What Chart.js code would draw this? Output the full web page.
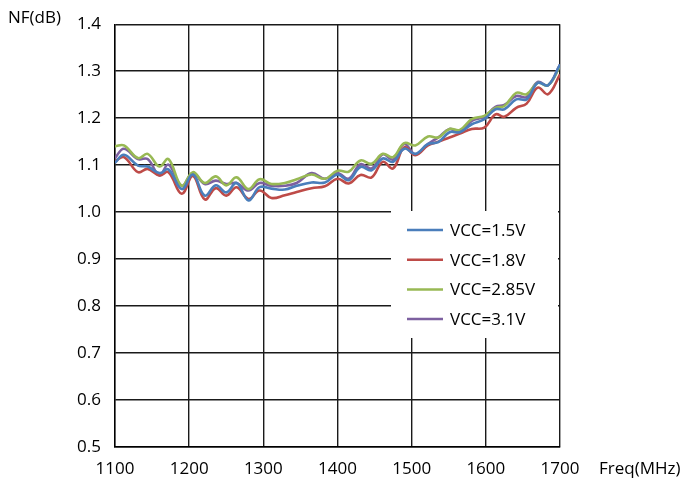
<!DOCTYPE html>
<html>
<head>
<meta charset="utf-8">
<script src="https://cdn.jsdelivr.net/npm/chart.js@4.4.1/dist/chart.umd.min.js"></script>
<style>
  html, body { margin: 0; padding: 0; background: #fff; }
  #wrap { width: 689px; height: 486px; position: relative; }
</style>
</head>
<body>
<div id="wrap"><canvas id="nf-chart"></canvas></div>
<script>
// frequency points (MHz) at the wiggle peaks/troughs
const freqs = [1100, 1112, 1131, 1144, 1160, 1172, 1190, 1205, 1221, 1236, 1250, 1264, 1280, 1295, 1311, 1329, 1345, 1365, 1383, 1400,
  1415, 1431, 1446, 1461, 1475, 1490, 1505, 1522, 1536, 1551, 1565, 1581, 1598, 1613, 1625, 1641, 1655, 1670, 1684, 1700];

// NF (dB) per supply voltage
const nf15 = [1.105, 1.122, 1.099, 1.097, 1.083, 1.091, 1.049, 1.080, 1.035, 1.057, 1.042, 1.062, 1.025, 1.053, 1.050, 1.048, 1.056, 1.063, 1.063, 1.080,
  1.068, 1.096, 1.089, 1.114, 1.107, 1.135, 1.124, 1.145, 1.149, 1.170, 1.170, 1.187, 1.198, 1.219, 1.219, 1.240, 1.240, 1.275, 1.270, 1.314];
const nf18 = [1.108, 1.117, 1.085, 1.092, 1.078, 1.085, 1.039, 1.077, 1.027, 1.051, 1.035, 1.053, 1.028, 1.046, 1.030, 1.036, 1.043, 1.051, 1.055, 1.071,
  1.061, 1.079, 1.074, 1.107, 1.093, 1.138, 1.121, 1.142, 1.150, 1.159, 1.167, 1.177, 1.180, 1.208, 1.203, 1.222, 1.231, 1.265, 1.251, 1.293];
const nf285 = [1.140, 1.142, 1.115, 1.124, 1.097, 1.113, 1.056, 1.085, 1.062, 1.076, 1.057, 1.074, 1.049, 1.070, 1.060, 1.062, 1.070, 1.080, 1.071, 1.088,
  1.086, 1.110, 1.103, 1.124, 1.117, 1.147, 1.142, 1.161, 1.159, 1.177, 1.175, 1.198, 1.205, 1.222, 1.226, 1.254, 1.251, 1.275, 1.270, 1.310];
const nf31 = [1.115, 1.135, 1.113, 1.113, 1.078, 1.101, 1.056, 1.083, 1.060, 1.067, 1.060, 1.062, 1.046, 1.062, 1.056, 1.056, 1.062, 1.083, 1.071, 1.083,
  1.071, 1.102, 1.093, 1.123, 1.112, 1.145, 1.123, 1.145, 1.159, 1.177, 1.170, 1.194, 1.203, 1.224, 1.228, 1.247, 1.245, 1.277, 1.270, 1.314];

const seriesNames = ['VCC=1.5V', 'VCC=1.8V', 'VCC=2.85V', 'VCC=3.1V'];
const seriesValues = [nf15, nf18, nf285, nf31];
const seriesColors = ['#4A7EBB', '#BE4B48', '#98B954', '#7D60A0'];

const FONT = '"Open Sans", "Liberation Sans", sans-serif';
const FONT_SIZE = 17;

// legend box drawn inside the plot, over the grid
const legendBox = {
  id: 'legendBox',
  beforeDatasetsDraw(chart) {
    const ctx = chart.ctx;
    ctx.save();
    ctx.fillStyle = '#fff';
    ctx.fillRect(391, 211, 167, 127);
    ctx.font = FONT_SIZE + 'px ' + FONT;
    ctx.textBaseline = 'middle';
    ctx.fillStyle = '#000';
    chart.data.datasets.forEach((ds, i) => {
      const y = 230 + i * 29.7;
      ctx.strokeStyle = ds.borderColor;
      ctx.lineWidth = 2.5;
      ctx.beginPath();
      ctx.moveTo(407, y);
      ctx.lineTo(443, y);
      ctx.stroke();
      ctx.fillText(ds.label, 450, y + 1);
    });
    ctx.restore();
  },
  afterDraw(chart) {
    // axis captions sitting beside the tick labels
    const ctx = chart.ctx;
    ctx.save();
    ctx.font = FONT_SIZE + 'px ' + FONT;
    ctx.fillStyle = '#000';
    ctx.textBaseline = 'middle';
    ctx.fillText('NF(dB)', 8, 18);
    ctx.fillText('Freq(MHz)', 599, 469);
    ctx.restore();
  }
};

const datasets = seriesNames.map((name, i) => ({
  label: name,
  data: freqs.map((f, j) => ({ x: f, y: seriesValues[i][j] })),
  borderColor: seriesColors[i],
  backgroundColor: seriesColors[i],
  borderWidth: 2.6,
  pointRadius: 0,
  tension: 0.4,
  fill: false
}));

new Chart(document.getElementById('nf-chart'), {
  type: 'line',
  data: { datasets: datasets },
  options: {
    responsive: true,
    maintainAspectRatio: false,
    animation: false,
    layout: { padding: { top: 15, right: 129, left: 0, bottom: 0 } },
    plugins: {
      legend: { display: false },
      tooltip: { enabled: false }
    },
    scales: {
      x: {
        type: 'linear',
        min: 1100,
        max: 1700,
        afterFit: (s) => { s.height = 39; },
        ticks: {
          stepSize: 100, padding: 12, color: '#000', font: { family: FONT, size: FONT_SIZE }, maxRotation: 0,
          callback: (v) => String(v)
        },
        grid: { color: '#1a1a1a', lineWidth: 1.4, drawTicks: false },
        border: { color: '#000', width: 1.4 }
      },
      y: {
        min: 0.5,
        max: 1.4,
        afterFit: (s) => { s.width = 115; },
        ticks: {
          stepSize: 0.1, padding: 14, color: '#000', font: { family: FONT, size: FONT_SIZE },
          callback: (v) => v.toFixed(1)
        },
        grid: { color: '#1a1a1a', lineWidth: 1.4, drawTicks: false },
        border: { color: '#000', width: 1.4 }
      }
    }
  },
  plugins: [legendBox]
});
</script>
</body>
</html>
